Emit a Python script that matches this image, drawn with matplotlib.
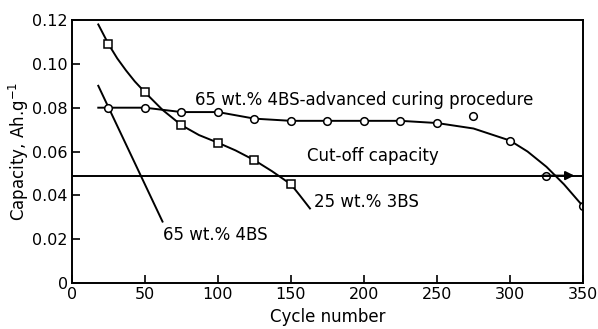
import matplotlib
matplotlib.use('Agg')
import matplotlib.pyplot as plt

plt.rcParams['font.family'] = ['DejaVu Sans']

# 65 wt.% 4BS - advanced curing procedure (circles)
adv_x = [25, 50, 75, 100, 125, 150, 175, 200, 225, 250, 275, 300, 325, 350]
adv_y = [0.080, 0.080, 0.078, 0.078, 0.075, 0.074, 0.074, 0.074, 0.074, 0.073, 0.076, 0.065, 0.049, 0.035]
adv_line_x = [18, 25, 50, 75, 100, 125, 150, 175, 200, 225, 250, 275, 300, 312, 325, 337, 350]
adv_line_y = [0.080, 0.080, 0.080, 0.078, 0.078, 0.075, 0.074, 0.074, 0.074, 0.074, 0.073, 0.0705, 0.065, 0.060, 0.053, 0.045, 0.035]

# 25 wt.% 3BS (squares)
bs3_x = [25, 50, 75, 100, 125, 150]
bs3_y = [0.109, 0.087, 0.072, 0.064, 0.056, 0.045]
bs3_line_x = [18, 25, 31, 37, 43, 50, 62, 75, 87, 100, 112, 125, 137, 150, 156, 163]
bs3_line_y = [0.118, 0.109, 0.1025, 0.097, 0.092, 0.087, 0.079, 0.072, 0.0675, 0.064, 0.0605, 0.056, 0.051, 0.045, 0.040, 0.034]

# 65 wt.% 4BS (plain line)
bs4_x = [18, 62]
bs4_y = [0.090, 0.028]

cutoff = 0.049

fig = plt.figure(figsize=(5.98, 3.29), dpi=100)
ax = fig.add_axes([0.1204, 0.140, 0.8545, 0.799])

ax.plot(bs4_x, bs4_y, color='k', lw=1.4)
ax.plot(bs3_line_x, bs3_line_y, color='k', lw=1.4)
ax.plot(bs3_x, bs3_y, 's', ms=5.5, mfc='white', mec='k', mew=1.1)
ax.plot(adv_line_x, adv_line_y, color='k', lw=1.4)
ax.plot(adv_x, adv_y, 'o', ms=5.5, mfc='white', mec='k', mew=1.1)

ax.plot([0, 350], [cutoff, cutoff], color='k', lw=1.4)
ax.annotate('', xy=(346, cutoff), xytext=(320, cutoff),
            arrowprops=dict(arrowstyle='-|>', color='k', lw=1.4, mutation_scale=13))

ax.text(84, 0.0836, '65 wt.% 4BS-advanced curing procedure', fontsize=12, va='center')
ax.text(161, 0.058, 'Cut-off capacity', fontsize=12, va='center')
ax.text(166, 0.037, '25 wt.% 3BS', fontsize=12, va='center')
ax.text(62, 0.022, '65 wt.% 4BS', fontsize=12, va='center')

ax.set_xlim(0, 350)
ax.set_ylim(0, 0.12)
ax.set_xticks([0, 50, 100, 150, 200, 250, 300, 350])
ax.set_yticks([0, 0.02, 0.04, 0.06, 0.08, 0.10, 0.12])
ax.set_yticklabels(['0', '0.02', '0.04', '0.06', '0.08', '0.10', '0.12'])
ax.tick_params(direction='in', length=6, width=1.2, labelsize=11.5, pad=3)
for s in ax.spines.values():
    s.set_linewidth(1.4)

ax.set_xlabel('Cycle number', fontsize=12, labelpad=4)
ax.set_ylabel('Capacity, Ah.g$^{-1}$', fontsize=12, labelpad=1)

fig.savefig('out.png', dpi=100)
